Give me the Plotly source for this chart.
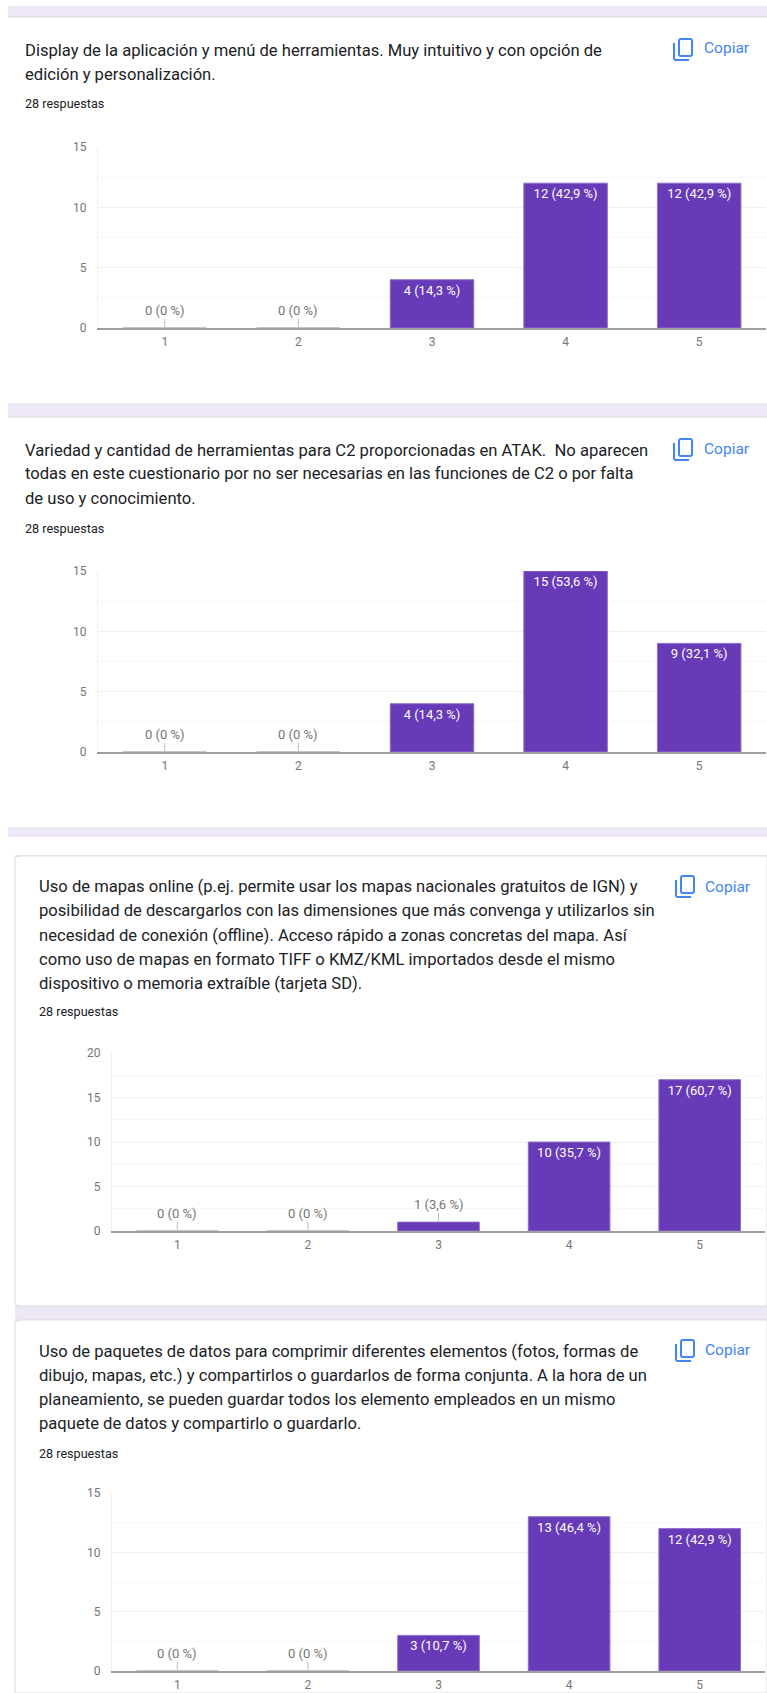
import plotly.graph_objects as go

W, H = 767, 1693

categories = [1, 2, 3, 4, 5]

values_1 = [0, 0, 4, 12, 12]
labels_1 = ["0 (0 %)", "0 (0 %)", "4 (14,3 %)", "12 (42,9 %)", "12 (42,9 %)"]
values_2 = [0, 0, 4, 15, 9]
labels_2 = ["0 (0 %)", "0 (0 %)", "4 (14,3 %)", "15 (53,6 %)", "9 (32,1 %)"]
values_3 = [0, 0, 1, 10, 17]
labels_3 = ["0 (0 %)", "0 (0 %)", "1 (3,6 %)", "10 (35,7 %)", "17 (60,7 %)"]
values_4 = [0, 0, 3, 13, 12]
labels_4 = ["0 (0 %)", "0 (0 %)", "3 (10,7 %)", "13 (46,4 %)", "12 (42,9 %)"]

question_1 = ["Display de la aplicación y menú de herramientas. Muy intuitivo y con opción de",
              "edición y personalización."]
question_2 = ["Variedad y cantidad de herramientas para C2 proporcionadas en ATAK.  No aparecen",
              "todas en este cuestionario por no ser necesarias en las funciones de C2 o por falta",
              "de uso y conocimiento."]
question_3 = ["Uso de mapas online (p.ej. permite usar los mapas nacionales gratuitos de IGN) y",
              "posibilidad de descargarlos con las dimensiones que más convenga y utilizarlos sin",
              "necesidad de conexión (offline). Acceso rápido a zonas concretas del mapa. Así",
              "como uso de mapas en formato TIFF o KMZ/KML importados desde el mismo",
              "dispositivo o memoria extraíble (tarjeta SD)."]
question_4 = ["Uso de paquetes de datos para comprimir diferentes elementos (fotos, formas de",
              "dibujo, mapas, etc.) y compartirlos o guardarlos de forma conjunta. A la hora de un",
              "planeamiento, se pueden guardar todos los elemento empleados en un mismo",
              "paquete de datos y compartirlo o guardarlo."]
responses = "28 respuestas"
copy_label = "Copiar"

FONT = "Roboto"
PURPLE = "#673ab7"
LAV = "#ede7f6"
BORDER = "#dadce0"
BLUE = "#4285f4"


def fx(x):
    return x / W


def fy(y):
    return 1 - y / H


panels = [
    dict(values=values_1, labels=labels_1, q=question_1, ymax=15,
         left=98, right=766, top=147, base=328, tx=24.5, qy=50, ry=104,
         cx=704, cy=48, ix=673, iy=38),
    dict(values=values_2, labels=labels_2, q=question_2, ymax=15,
         left=98, right=766, top=571, base=752, tx=24.5, qy=450, ry=528,
         cx=704, cy=449, ix=673, iy=438),
    dict(values=values_3, labels=labels_3, q=question_3, ymax=20,
         left=112, right=765, top=1053, base=1231, tx=39, qy=887, ry=1011,
         cx=705, cy=887, ix=675, iy=875),
    dict(values=values_4, labels=labels_4, q=question_4, ymax=15,
         left=112, right=765, top=1493, base=1671, tx=39, qy=1351, ry=1453,
         cx=705, cy=1350, ix=675, iy=1339),
]

fig = go.Figure()
shapes = []
annotations = []


def rect(x0, y0, x1, y1, fill, line=None):
    shapes.append(dict(type="rect", xref="paper", yref="paper", layer="below",
                       x0=fx(x0), x1=fx(x1), y0=fy(y1), y1=fy(y0),
                       fillcolor=fill, line=dict(width=1 if line else 0, color=line or fill)))


def path(points, line, width=1, fill=None, layer="below"):
    d = ""
    for cmd, *pt in points:
        d += cmd
        for i in range(0, len(pt), 2):
            d += f" {fx(pt[i]):.5f},{fy(pt[i + 1]):.5f} "
    shapes.append(dict(type="path", xref="paper", yref="paper", layer=layer, path=d + "",
                       line=dict(color=line, width=width),
                       fillcolor=fill or "rgba(0,0,0,0)"))


def text(x, y, s, size, color):
    annotations.append(dict(xref="paper", yref="paper", x=fx(x), y=fy(y), text=s, showarrow=False,
                            xanchor="left", yanchor="middle", align="left",
                            borderpad=0, borderwidth=0,
                            font=dict(family=FONT, size=size, color=color)))


# page bands and cards
rect(8, 6, 767, 17, LAV)
path([("M", 8, 17), ("L", 767, 17)], BORDER)
rect(8, 404, 767, 417, LAV)
path([("M", 8, 404), ("L", 767, 404)], BORDER)
path([("M", 8, 417), ("L", 767, 417)], BORDER)
rect(8, 828, 767, 837, LAV)
path([("M", 8, 828), ("L", 767, 828)], BORDER)
rect(15, 855, 767, 1693, LAV)
path([("M", 15, 859), ("Q", 15, 856, 19, 856), ("L", 767, 856), ("L", 767, 1306), ("L", 19, 1306),
      ("Q", 15, 1306, 15, 1302), ("Z",)], BORDER, 1, "#ffffff")
path([("M", 15, 1324), ("Q", 15, 1320, 19, 1320), ("L", 767, 1320), ("L", 767, 1693), ("L", 15, 1693),
      ("Z",)], BORDER, 1, "#ffffff")

for i, p in enumerate(panels, start=1):
    xa, ya = f"x{i}", f"y{i}"
    inside = [v > 0 and v / p["ymax"] > 0.1 for v in p["values"]]
    fig.add_trace(go.Bar(
        x=categories, y=p["values"], xaxis=xa, yaxis=ya, width=0.625,
        marker=dict(color=PURPLE,
                    line=dict(color=["#b5aec4" if v == 0 else "#8f6fcb" for v in p["values"]],
                              width=1)),
        text=[l if k else "" for l, k in zip(p["labels"], inside)],
        textposition="inside", insidetextanchor="end", textangle=0,
        textfont=dict(family=FONT, size=13, color="#ffffff"),
        hoverinfo="skip", showlegend=False,
    ))
    axis_x = dict(domain=[fx(p["left"]), fx(p["right"])], range=[0.5, 5.5], anchor=ya, automargin=False,
                  tickmode="array", tickvals=categories, ticks="", showgrid=False,
                  showline=True, linecolor="#9e9e9e", linewidth=1.5, zeroline=False,
                  tickfont=dict(family=FONT, size=12, color="#757575"), ticklabelstandoff=2)
    axis_y = dict(domain=[fy(p["base"]), fy(p["top"])], range=[0, p["ymax"]], anchor=xa, automargin=False,
                  dtick=5, tick0=0, showgrid=True, gridcolor="#f0f0f0", gridwidth=1,
                  minor=dict(dtick=2.5, showgrid=True, gridcolor="#f7f7f7", gridwidth=1),
                  showline=True, linecolor="#f0f0f0", linewidth=1, zeroline=False, ticks="",
                  tickfont=dict(family=FONT, size=12, color="#757575"), ticklabelstandoff=8)
    suffix = "" if i == 1 else str(i)
    fig.layout["xaxis" + suffix] = axis_x
    fig.layout["yaxis" + suffix] = axis_y

    for c, v, l, k in zip(categories, p["values"], p["labels"], inside):
        if not k:
            annotations.append(dict(xref=xa, yref=ya, x=c, y=v, text=l, showarrow=True,
                                    arrowhead=0, arrowwidth=1, arrowcolor="#bdbdbd",
                                    ax=0, ay=-18,
                                    font=dict(family=FONT, size=13, color="#757575")))

    for n, line in enumerate(p["q"]):
        text(p["tx"], p["qy"] + 24 * n, line, 16.6, "#202124")
    text(p["tx"], p["ry"], responses, 12.6, "#202124")
    text(p["cx"], p["cy"], copy_label, 15.5, BLUE)

    # copy icon
    ix, iy = p["ix"], p["iy"]
    path([("M", ix + 8, iy + 1), ("L", ix + 17, iy + 1), ("Q", ix + 19, iy + 1, ix + 19, iy + 3),
          ("L", ix + 19, iy + 16), ("Q", ix + 19, iy + 18, ix + 17, iy + 18),
          ("L", ix + 8, iy + 18), ("Q", ix + 6, iy + 18, ix + 6, iy + 16),
          ("L", ix + 6, iy + 3), ("Q", ix + 6, iy + 1, ix + 8, iy + 1), ("Z",)],
         BLUE, 2, layer="above")
    path([("M", ix + 1, iy + 5), ("L", ix + 1, iy + 20), ("Q", ix + 1, iy + 22, ix + 3, iy + 22),
          ("L", ix + 16, iy + 22)], BLUE, 2, layer="above")

fig.update_layout(width=W, height=H, margin=dict(l=0, r=0, t=0, b=0), autosize=False,
                  paper_bgcolor="#ffffff", plot_bgcolor="#ffffff", barmode="overlay",
                  shapes=shapes, annotations=annotations,
                  font=dict(family=FONT))

fig.write_html("out.html", config={"displayModeBar": False},
               post_script="document.body.style.margin='0';document.body.style.overflow='hidden';")
